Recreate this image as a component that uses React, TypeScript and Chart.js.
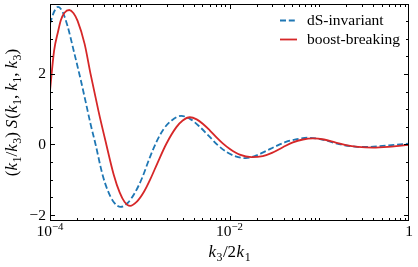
import React, { useEffect, useRef } from "react";
import { Chart, registerables } from "chart.js";

Chart.register(...registerables);

// ---- data ----
const seriesLabels = ["dS-invariant", "boost-breaking"];
const seriesColors = ["#1f77b4", "#d62728"];

const blueX = [
  1.0e-4, 1.11e-4, 1.23e-4, 1.38e-4, 1.57e-4, 1.86e-4, 2.19e-4, 2.49e-4, 2.83e-4, 3.22e-4,
  3.85e-4, 4.39e-4, 5.12e-4, 6.12e-4, 7.33e-4, 8.78e-4, 1.05e-3, 1.29e-3, 1.54e-3, 1.85e-3,
  2.27e-3, 2.9e-3, 3.7e-3, 4.66e-3, 5.88e-3, 7.4e-3, 9.33e-3, 1.17e-2, 1.52e-2, 1.96e-2,
  2.54e-2, 3.29e-2, 4.25e-2, 5.64e-2, 7.48e-2, 1.02e-1, 1.35e-1, 1.79e-1, 2.5e-1, 3.32e-1,
  4.75e-1, 7.0e-1, 1.0,
];
const blueY = [
  3.42, 3.76, 3.9, 3.76, 3.35, 2.6, 1.85, 1.22, 0.58, 0.0,
  -0.86, -1.3, -1.63, -1.77, -1.66, -1.38, -0.98, -0.38, 0.08, 0.44,
  0.68, 0.81, 0.71, 0.5, 0.24, -0.02, -0.22, -0.34, -0.39, -0.32,
  -0.19, -0.05, 0.07, 0.15, 0.19, 0.15, 0.07, -0.01, -0.06, -0.07,
  -0.05, -0.01, 0.02,
];

const redX = [
  1.0e-4, 1.11e-4, 1.23e-4, 1.32e-4, 1.45e-4, 1.64e-4, 1.83e-4, 2.03e-4, 2.43e-4, 2.83e-4,
  3.48e-4, 4.24e-4, 5.12e-4, 5.97e-4, 6.78e-4, 7.81e-4, 9.23e-4, 1.11e-3, 1.32e-3, 1.58e-3,
  1.98e-3, 2.56e-3, 3.01e-3, 3.61e-3, 4.31e-3, 5.07e-3, 6.02e-3, 7.16e-3, 8.41e-3, 1.01e-2,
  1.3e-2, 1.76e-2, 2.35e-2, 2.97e-2, 3.93e-2, 5.09e-2, 6.58e-2, 8.51e-2, 1.13e-1, 1.5e-1,
  1.98e-1, 2.7e-1, 3.97e-1, 5.85e-1, 7.75e-1, 1.0,
];
const redY = [
  1.52, 2.65, 3.2, 3.52, 3.73, 3.81, 3.72, 3.5, 2.85, 2.0,
  0.93, 0.0, -0.85, -1.36, -1.63, -1.74, -1.63, -1.35, -0.97, -0.52,
  0.02, 0.49, 0.68, 0.77, 0.71, 0.58, 0.4, 0.2, 0.03, -0.13,
  -0.29, -0.36, -0.33, -0.24, -0.08, 0.06, 0.14, 0.17, 0.14, 0.06,
  -0.02, -0.07, -0.09, -0.07, -0.04, -0.01,
];

const xMin = 1e-4;
const xMax = 1;
const yMin = -2.17;
const yMax = 3.98;

const xMajorTicks = [1e-4, 1e-2, 1];
const xTickBase = ["10", "10", "1"];
const xTickExp = ["\u22124", "\u22122", ""];
const xMinorDecades = [-4, -3, -2, -1];
const xMinorMultipliers = [1, 2, 3, 4, 5, 6, 7, 8, 9];

const yMajorTicks = [-2, 0, 2];
const yTickLabels = ["\u22122", "0", "2"];
const yMinorTicks = [-2, -1.5, -1, -0.5, 0, 0.5, 1, 1.5, 2, 2.5, 3, 3.5];

const FONT = '"Liberation Serif", "Times New Roman", serif';
const FS = 15.5;
const MATH_FS = 17;

type Seg = { t: string; it?: boolean; sub?: boolean; sup?: boolean; gap?: number };

function drawRich(
  ctx: CanvasRenderingContext2D,
  segs: Seg[],
  x: number,
  y: number,
  align: string,
  fs: number
) {
  const fontFor = (s: Seg) => {
    const size = s.sub || s.sup ? fs * 0.7 : fs;
    return `${s.it ? "italic " : ""}${size}px ${FONT}`;
  };
  let total = 0;
  const widths = segs.map((s) => {
    ctx.font = fontFor(s);
    const w = ctx.measureText(s.t).width + (s.gap || 0);
    total += w;
    return w;
  });
  let cx = align === "center" ? x - total / 2 : align === "right" ? x - total : x;
  ctx.textAlign = "left";
  segs.forEach((s, i) => {
    ctx.font = fontFor(s);
    const dy = s.sub ? fs * 0.22 : s.sup ? -fs * 0.4 : 0;
    ctx.fillText(s.t, cx, y + dy);
    cx += widths[i];
  });
}

const axesPlugin = {
  id: "axesPlugin",
  afterDraw(chart: any) {
    const ctx: CanvasRenderingContext2D = chart.ctx;
    const xs = chart.scales.x;
    const ys = chart.scales.y;
    const { left, right, top, bottom } = chart.chartArea;
    ctx.save();
    ctx.strokeStyle = "#000";
    ctx.fillStyle = "#000";
    ctx.lineWidth = 1;
    const L = Math.round(left) + 0.5;
    const R = Math.round(right) - 0.5;
    const T = Math.round(top) + 0.5;
    const B = Math.round(bottom) - 0.5;
    ctx.strokeRect(L, T, R - L, B - T);

    const majLen = 4.5;
    const minLen = 2.5;
    ctx.beginPath();
    xMinorDecades.forEach((d) => {
      xMinorMultipliers.forEach((m) => {
        const v = m * Math.pow(10, d);
        if (xMajorTicks.some((t) => Math.abs(t - v) / t < 1e-9)) return;
        const px = Math.round(xs.getPixelForValue(v)) + 0.5;
        ctx.moveTo(px, B);
        ctx.lineTo(px, B - minLen);
        ctx.moveTo(px, T);
        ctx.lineTo(px, T + minLen);
      });
    });
    xMajorTicks.forEach((v) => {
      let px = Math.round(xs.getPixelForValue(v)) + 0.5;
      if (px > R) px = R;
      ctx.moveTo(px, B);
      ctx.lineTo(px, B - majLen);
      ctx.moveTo(px, T);
      ctx.lineTo(px, T + majLen);
    });
    yMinorTicks.forEach((v) => {
      if (yMajorTicks.includes(v)) return;
      const py = Math.round(ys.getPixelForValue(v)) + 0.5;
      ctx.moveTo(L, py);
      ctx.lineTo(L + minLen, py);
      ctx.moveTo(R, py);
      ctx.lineTo(R - minLen, py);
    });
    yMajorTicks.forEach((v) => {
      const py = Math.round(ys.getPixelForValue(v)) + 0.5;
      ctx.moveTo(L, py);
      ctx.lineTo(L + majLen, py);
      ctx.moveTo(R, py);
      ctx.lineTo(R - majLen, py);
    });
    ctx.stroke();

    // tick labels
    ctx.textBaseline = "alphabetic";
    xMajorTicks.forEach((v, i) => {
      const px = xs.getPixelForValue(v);
      const segs: Seg[] = [{ t: xTickBase[i] }];
      if (xTickExp[i]) segs.push({ t: xTickExp[i], sup: true });
      drawRich(ctx, segs, px, bottom + 15, "center", FS);
    });
    ctx.textBaseline = "middle";
    ctx.font = `${FS}px ${FONT}`;
    ctx.textAlign = "right";
    yMajorTicks.forEach((v, i) => {
      const py = ys.getPixelForValue(v);
      ctx.fillText(yTickLabels[i], left - 4, py + 0.5);
    });

    // axis titles
    ctx.textBaseline = "alphabetic";
    drawRich(
      ctx,
      [
        { t: "k", it: true, gap: 0.5 },
        { t: "3", sub: true, gap: 0.5 },
        { t: "/2", gap: 0.5 },
        { t: "k", it: true, gap: 0.5 },
        { t: "1", sub: true },
      ],
      (left + right) / 2,
      257,
      "center",
      MATH_FS
    );
    ctx.save();
    ctx.translate(17, (top + bottom) / 2);
    ctx.rotate(-Math.PI / 2);
    drawRich(
      ctx,
      [
        { t: "(" },
        { t: "k", it: true, gap: 0.5 },
        { t: "1", sub: true },
        { t: "/" },
        { t: "k", it: true, gap: 0.5 },
        { t: "3", sub: true },
        { t: ")", gap: 4 },
        { t: "S", it: true, gap: 1 },
        { t: "(" },
        { t: "k", it: true, gap: 0.5 },
        { t: "1", sub: true },
        { t: ",", gap: 4 },
        { t: "k", it: true, gap: 0.5 },
        { t: "1", sub: true },
        { t: ",", gap: 4 },
        { t: "k", it: true, gap: 0.5 },
        { t: "3", sub: true },
        { t: ")" },
      ],
      0,
      0,
      "center",
      MATH_FS
    );
    ctx.restore();

    // legend
    const legX0 = 280;
    const legX1 = 297;
    const legTextX = 307;
    const legY = [20, 39];
    chart.data.datasets.forEach((ds: any, i: number) => {
      const yy = legY[i] + 0.5;
      ctx.save();
      ctx.strokeStyle = ds.borderColor;
      ctx.lineWidth = ds.borderWidth;
      ctx.setLineDash(ds.borderDash || []);
      ctx.beginPath();
      ctx.moveTo(legX0, yy);
      ctx.lineTo(legX1, yy);
      ctx.stroke();
      ctx.restore();
      ctx.fillStyle = "#000";
      ctx.font = `${FS}px ${FONT}`;
      ctx.textAlign = "left";
      ctx.textBaseline = "middle";
      ctx.fillText(ds.label, legTextX, legY[i] + 0.5);
    });
    ctx.restore();
  },
};

export default function App() {
  const ref = useRef<HTMLCanvasElement | null>(null);
  useEffect(() => {
    document.body.style.margin = "0";
    const canvas = ref.current;
    if (!canvas) return;
    const chart = new Chart(canvas, {
      type: "line",
      data: {
        datasets: [
          {
            label: seriesLabels[0],
            data: blueX.map((x, i) => ({ x, y: blueY[i] })),
            borderColor: seriesColors[0],
            borderWidth: 1.8,
            borderDash: [6, 2.8],
            pointRadius: 0,
            cubicInterpolationMode: "monotone",
            fill: false,
            order: 1,
          },
          {
            label: seriesLabels[1],
            data: redX.map((x, i) => ({ x, y: redY[i] })),
            borderColor: seriesColors[1],
            borderWidth: 1.8,
            pointRadius: 0,
            cubicInterpolationMode: "monotone",
            fill: false,
            order: 0,
          },
        ],
      },
      options: {
        animation: false,
        responsive: false,
        devicePixelRatio: 1,
        layout: { padding: { left: 50, right: 9, top: 4, bottom: 46 } },
        plugins: { legend: { display: false }, tooltip: { enabled: false } },
        scales: {
          x: { type: "logarithmic", min: xMin, max: xMax, display: false },
          y: { type: "linear", min: yMin, max: yMax, display: false },
        },
      },
      plugins: [axesPlugin],
    });
    return () => chart.destroy();
  }, []);
  return (
    <div style={{ width: 418, height: 267, background: "#fff" }}>
      <canvas ref={ref} width={418} height={267} style={{ display: "block", width: 418, height: 267 }} />
    </div>
  );
}
